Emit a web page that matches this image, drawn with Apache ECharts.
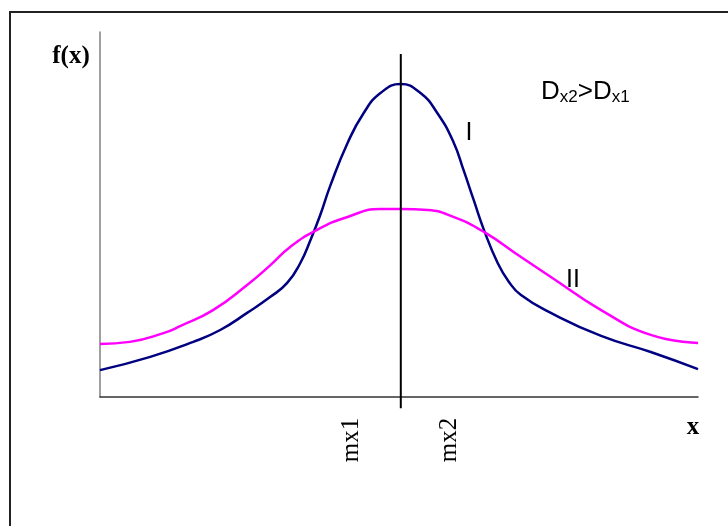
<!DOCTYPE html>
<html>
<head>
<meta charset="utf-8">
<script src="https://cdn.jsdelivr.net/npm/echarts@6/dist/echarts.min.js"></script>
<style>
  html, body { margin: 0; padding: 0; background: #fff; }
  #chart { width: 728px; height: 526px; }
</style>
</head>
<body>
<div id="chart"></div>
<script>
// curve I (narrow) and curve II (wide), x in % of axis, y in % of height
const xI = [0, 8.4, 15.6, 20.1, 24.6, 28.5, 31.3, 33.5, 35.2, 36.8, 38.5, 41.4, 44.1, 46.9, 50.3, 53.6, 56.4, 59.1, 60.8, 62.5, 64.2, 66.5, 68.3, 70.4, 75.4, 83.8, 92.1, 100];
const yI = [7.7, 11.5, 15.8, 19.2, 24.1, 28.7, 32.7, 38.4, 45, 52, 60.5, 72.8, 81.4, 87.1, 89.7, 87.1, 81.4, 73.1, 65, 56.4, 47.9, 38.4, 33.2, 29.2, 24.1, 17.5, 12.9, 8];
const xII = [0, 5, 10.6, 13.4, 18.9, 24.6, 28.5, 31.8, 36.3, 41.4, 46.9, 50.3, 54.8, 59.1, 64.2, 70.4, 75.4, 83.8, 92.1, 100];
const yII = [15.2, 15.8, 18.3, 20.3, 24.9, 32.1, 37.8, 43, 47.9, 51.6, 53.9, 53.9, 53.6, 51.6, 47.3, 40.1, 34.4, 24.9, 17.8, 15.5];
const meanX = 50.3;
const meanLine = [-3.2, 98.3];

const chart = echarts.init(document.getElementById('chart'));

const zip = (xs, ys) => xs.map((x, i) => [x, ys[i]]);
const serif = '"Liberation Serif", "Times New Roman", serif';
const sans = '"Liberation Sans", Arial, sans-serif';

chart.setOption({
  animation: false,
  grid: { left: 100, right: 30, top: 32, bottom: 129 },
  xAxis: {
    type: 'value', min: 0, max: 100,
    axisLine: { lineStyle: { color: '#333', width: 1.5 } },
    axisTick: { show: false }, axisLabel: { show: false }, splitLine: { show: false }
  },
  yAxis: {
    type: 'value', min: 0, max: 104.6,
    axisLine: { show: true, lineStyle: { color: '#808080', width: 1.5 } },
    axisTick: { show: false }, axisLabel: { show: false }, splitLine: { show: false }
  },
  series: [
    {
      name: 'I', type: 'line', data: zip(xI, yI), smooth: 0.5, symbol: 'none',
      lineStyle: { color: '#000080', width: 2.5 }
    },
    {
      name: 'II', type: 'line', data: zip(xII, yII), smooth: 0.5, symbol: 'none',
      lineStyle: { color: '#ff00ff', width: 2.5 }
    },
    {
      type: 'line', data: meanLine.map(v => [meanX, v]), symbol: 'none', clip: false,
      lineStyle: { color: '#000', width: 2 }
    }
  ],
  graphic: [
    { type: 'rect', shape: { x: 10, y: 12, width: 800, height: 600 }, style: { fill: 'none', stroke: '#222', lineWidth: 2 } },
    { type: 'text', x: 71, y: 57, style: { text: 'f(x)', font: 'bold 25px ' + serif, fill: '#000', textAlign: 'center', textVerticalAlign: 'middle' } },
    { type: 'text', x: 693, y: 428, style: { text: 'x', font: 'bold 25px ' + serif, fill: '#000', textAlign: 'center', textVerticalAlign: 'middle' } },
    { type: 'text', x: 351, y: 440, rotation: Math.PI / 2, style: { text: 'mx1', font: '25px ' + serif, fill: '#000', textAlign: 'center', textVerticalAlign: 'middle' } },
    { type: 'text', x: 449, y: 440, rotation: Math.PI / 2, style: { text: 'mx2', font: '25px ' + serif, fill: '#000', textAlign: 'center', textVerticalAlign: 'middle' } },
    { type: 'text', x: 469, y: 133, style: { text: 'I', font: '25px ' + sans, fill: '#000', textAlign: 'center', textVerticalAlign: 'middle' } },
    { type: 'text', x: 573, y: 280, style: { text: 'II', font: '25px ' + sans, fill: '#000', textAlign: 'center', textVerticalAlign: 'middle' } },
    {
      type: 'text', x: 541, y: 79,
      style: {
        text: '{a|D}{s|x2}{a|>D}{s|x1}',
        fill: '#000',
        rich: {
          a: { font: '26px ' + sans, lineHeight: 27, verticalAlign: 'top' },
          s: { font: '17px ' + sans, lineHeight: 17, verticalAlign: 'bottom' }
        }
      }
    }
  ]
});
</script>
</body>
</html>
